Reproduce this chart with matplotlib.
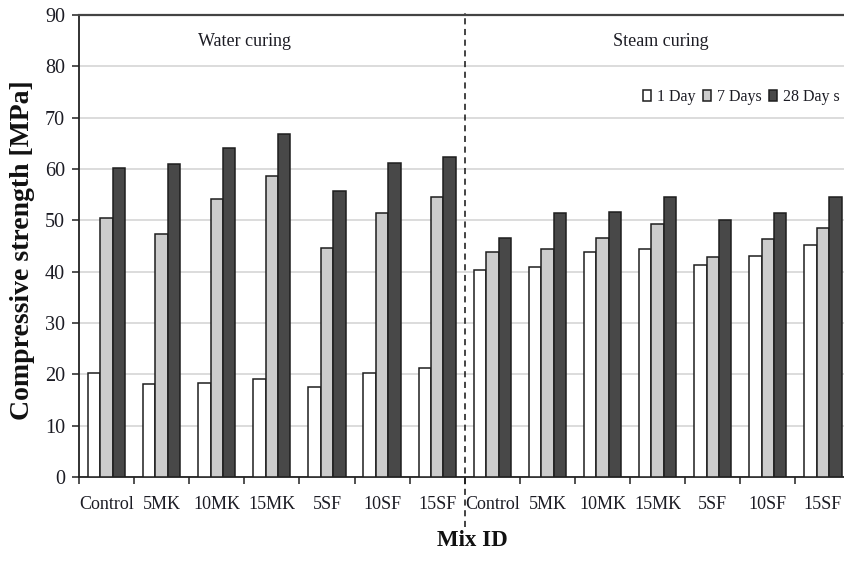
import numpy as np
import matplotlib
matplotlib.use("Agg")
import matplotlib.pyplot as plt
from matplotlib.patches import Patch

plt.rcParams["font.family"] = ["Liberation Serif", "DejaVu Serif"]

# mixes, repeated for the two curing regimes
mixes = ["Control", "5MK", "10MK", "15MK", "5SF", "10SF", "15SF"]
labels = mixes + mixes

ages = ["1 Day", "7 Days", "28 Day s"]

# compressive strength [MPa]: water curing then steam curing
day1 = [20.3, 18.1, 18.4, 19.1, 17.5, 20.2, 21.2,
        40.3, 40.9, 43.8, 44.4, 41.2, 43.1, 45.1]
day7 = [50.4, 47.3, 54.2, 58.6, 44.7, 51.4, 54.5,
        43.8, 44.4, 46.6, 49.2, 42.9, 46.3, 48.5]
day28 = [60.2, 60.9, 64.1, 66.9, 55.8, 61.1, 62.4,
         46.6, 51.4, 51.7, 54.5, 50.1, 51.4, 54.5]

colors = ["#ffffff", "#cccccc", "#484848"]
edge = "#1e1e1e"
txt = "#1c1c24"


def main():
    fig = plt.figure(figsize=(8.45, 5.63), dpi=100)
    ax = fig.add_axes([0.0935, 0.1528, 0.913, 0.8206])

    x = np.arange(len(labels)) + 0.5
    w = 0.225
    for i, vals in enumerate([day1, day7, day28]):
        ax.bar(x + (i - 1) * w, vals, w, color=colors[i], edgecolor=edge,
               linewidth=1.1, zorder=3)

    ax.set_xlim(0, len(labels))
    ax.set_ylim(0, 90)
    ax.set_yticks(np.arange(0, 91, 10))
    ax.yaxis.grid(True, color="#d6d6d6", linewidth=1.2, zorder=0)
    ax.set_axisbelow(True)

    # labels at category centres, tick marks at boundaries
    ax.set_xticks(x)
    ax.set_xticklabels(labels, fontsize=13, color=txt)
    ax.set_xticks(np.arange(0, len(labels) + 1), minor=True)
    ax.tick_params(axis="x", which="major", length=0, pad=14)
    ax.tick_params(axis="x", which="minor", length=5, width=1.1,
                   direction="out", color="#222222")
    ax.tick_params(axis="y", length=5, width=1.1, direction="out",
                   labelsize=14.5, labelcolor=txt, pad=5, color="#222222")

    for side in ["left", "bottom"]:
        ax.spines[side].set_color("#222222")
        ax.spines[side].set_linewidth(1.3)
    ax.spines["top"].set_color("#444444")
    ax.spines["top"].set_linewidth(1.6)
    ax.spines["right"].set_visible(False)

    # divider between water and steam curing
    ax.plot([7, 7], [-9.8, 90.3], color="#111111", linestyle=(0, (4, 3)),
            linewidth=1.1, clip_on=False, zorder=4)

    ax.text(3.0, 84.9, "Water curing", fontsize=13, ha="center",
            va="center", color=txt)
    ax.text(10.55, 84.9, "Steam curing", fontsize=13, ha="center",
            va="center", color=txt)

    handles = [Patch(facecolor=c, edgecolor=edge, linewidth=1.1)
               for c in colors]
    ax.legend(handles, ages, loc="center right",
              bbox_to_anchor=(851 / 845, 1 - 97 / 563),
              bbox_transform=fig.transFigure, ncol=3, frameon=False,
              fontsize=11.5, handlelength=0.5, handleheight=0.75,
              handletextpad=0.35, columnspacing=0.5, labelcolor=txt,
              borderpad=0.2)

    fig.text(23 / 845, 1 - 250 / 563, "Compressive strength [MPa]",
             rotation=90, fontsize=20, fontweight="bold", ha="center",
             va="center", color="#111111")
    fig.text(472 / 845, 1 - 541 / 563, "Mix ID", fontsize=16.5,
             fontweight="bold", ha="center", va="center", color="#111111")

    fig.savefig("out.png", dpi=100)


if __name__ == "__main__":
    main()
